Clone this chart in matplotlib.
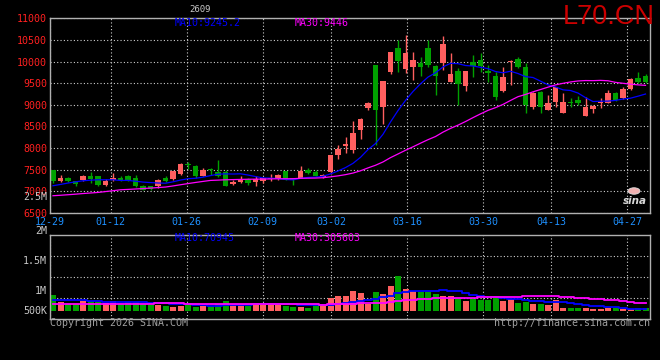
import numpy as np
import pandas as pd
import matplotlib
matplotlib.use('Agg')
import matplotlib.pyplot as plt

# L70 2609 daily bars, 2025-12-29 .. 2026-04-30
opens = [7499, 7230, 7310, 7245, 7252, 7360, 7345, 7153, 7252, 7320,
         7345, 7320, 7130, 7113, 7130, 7320, 7292, 7407, 7630, 7575,
         7360, 7515, 7437, 7437, 7169, 7206, 7284, 7206, 7230, 7284,
         7292, 7460, 7307, 7307, 7483, 7437, 7330, 7437, 7845, 8037,
         7960, 8422, 8923, 9922, 8960, 9768, 10308, 9823, 9883, 9961,
         10308, 9899, 9961, 9537, 9784, 9438, 9999, 10038, 9790, 9668,
         9329, 10000, 10054, 9883, 8946, 9306, 8884, 9076, 8807, 9076,
         9114, 8745, 8900, 9052, 9052, 9268, 9154, 9361, 9630, 9676]
highs = [7499, 7384, 7340, 7250, 7384, 7437, 7360, 7284, 7423, 7345,
         7384, 7384, 7145, 7130, 7284, 7360, 7480, 7653, 7676, 7614,
         7538, 7538, 7730, 7483, 7268, 7360, 7307, 7360, 7320, 7407,
         7407, 7470, 7320, 7575, 7538, 7483, 7400, 7850, 8076, 8253,
         8637, 8706, 9060, 9930, 9560, 10220, 10499, 10615, 10229, 10114,
         10488, 9922, 10598, 10192, 9846, 9790, 10153, 10206, 9922, 9768,
         9883, 10038, 10114, 9961, 9306, 9310, 9230, 9410, 9268, 9154,
         9206, 9177, 9000, 9154, 9345, 9306, 9422, 9615, 9768, 9714]
lows = [7199, 7215, 7210, 7113, 7230, 7192, 7130, 7113, 7230, 7230,
        7230, 7100, 7030, 7040, 7076, 7206, 7253, 7384, 7515, 7307,
        7345, 7384, 7330, 7113, 7153, 7192, 7153, 7130, 7200, 7230,
        7268, 7270, 7153, 7300, 7407, 7345, 7320, 7407, 7753, 7884,
        7898, 8207, 8884, 8076, 8560, 9714, 9768, 9745, 9576, 9668,
        9876, 9230, 9800, 9530, 8999, 9329, 9652, 9768, 9537, 9114,
        9306, 9461, 9846, 8807, 8900, 8822, 8880, 8960, 8800, 8960,
        8999, 8740, 8807, 8923, 9040, 9091, 9130, 9345, 9500, 9514]
closes = [7230, 7307, 7240, 7170, 7345, 7284, 7153, 7230, 7307, 7252,
          7252, 7113, 7040, 7053, 7252, 7230, 7476, 7637, 7615, 7360,
          7499, 7483, 7360, 7130, 7215, 7284, 7192, 7284, 7307, 7307,
          7384, 7284, 7268, 7476, 7423, 7360, 7384, 7845, 7977, 8099,
          8360, 8676, 9052, 8884, 9553, 10215, 10014, 10192, 10038, 9869,
          9922, 9668, 10407, 9714, 9477, 9784, 9899, 9888, 9745, 9191,
          9638, 10021, 9883, 8999, 9268, 8946, 9038, 9406, 9076, 9038,
          9052, 8960, 8983, 9076, 9283, 9114, 9361, 9592, 9538, 9538]
volumes = [460000, 264000, 214000, 214000, 284000, 284000, 264000, 234000, 284000, 214000,
           264000, 264000, 214000, 167000, 185000, 138000, 117000, 147000, 214000, 117000,
           147000, 147000, 214000, 284000, 214000, 214000, 147000, 234000, 214000, 234000,
           196000, 147000, 117000, 117000, 97000, 196000, 196000, 381000, 431000, 431000,
           577000, 527000, 214000, 557000, 489000, 724000, 1017000, 653000, 577000, 557000,
           557000, 489000, 431000, 431000, 390000, 293000, 360000, 331000, 314000, 390000,
           293000, 360000, 234000, 264000, 196000, 196000, 167000, 314000, 97000, 79000,
           79000, 79000, 59000, 59000, 79000, 79000, 59000, 59000, 79000, 79000]

# moving averages before a full window exists (history is off the chart)
ma10_head = [7130, 7160, 7192, 7220, 7245, 7258, 7268, 7268, 7268]
ma30_head = [6899, 6910, 6922, 6935, 6950, 6962, 6975, 6995, 7015, 7037,
             7045, 7055, 7065, 7076, 7088, 7100, 7125, 7153, 7180, 7206,
             7230, 7253, 7260, 7268, 7272, 7276, 7280, 7282, 7284]
vma10_head = [314000, 314000, 314000, 314000, 308000, 293000, 284000, 278000, 272000]
vma30_head = [214000, 214000, 214000, 214000, 214000, 214000, 214000, 214000, 214000, 214000,
              214000, 214000, 214000, 214000, 223000, 223000, 223000, 223000, 205000, 205000,
              205000, 205000, 205000, 205000, 205000, 205000, 205000, 205000, 205000]

# legend texts as printed on the chart
price_ma_labels = ['MA10:9245.2', 'MA30:9446']
vol_ma_labels = ['MA10:70945', 'MA30:305603']
vol_axis_labels = ['2M', '1.5M', '1M', '500K']

holidays = ['2026-01-01', '2026-01-02', '2026-02-16', '2026-02-17', '2026-02-18',
            '2026-02-19', '2026-02-20', '2026-02-23', '2026-04-06']
tick_dates = ['2025-12-29', '2026-01-12', '2026-01-26', '2026-02-09', '2026-03-02',
              '2026-03-16', '2026-03-30', '2026-04-13', '2026-04-27']
price_ticks = list(range(6500, 11001, 500))

RED = '#ff5f5f'
GREEN = '#00a000'
GRID = dict(color='#d0d0d0', linestyle=(0, (1, 2)), linewidth=0.8)
MONO = 'DejaVu Sans Mono'

dates = pd.bdate_range('2025-12-29', '2026-04-30')
dates = dates[~dates.isin(pd.to_datetime(holidays))]
n = len(dates)
x = np.arange(n)

o = np.array(opens, float)
h = np.array(highs, float)
l = np.array(lows, float)
c = np.array(closes, float)
v = np.array(volumes, float)
up = c >= o
colors = np.where(up, RED, GREEN)

cs = pd.Series(c)
ma10 = cs.rolling(10).mean().to_numpy()
ma10[:9] = ma10_head
ma30 = cs.rolling(30).mean().to_numpy()
ma30[:29] = ma30_head
vs = pd.Series(v)
vma10 = vs.rolling(10).mean().to_numpy()
vma10[:9] = vma10_head
vma30 = vs.rolling(30).mean().to_numpy()
vma30[:29] = vma30_head

# sina spaces its date grid over n-1 slots while bars use n
tick_idx = dates.get_indexer(pd.to_datetime(tick_dates))
grid_x = tick_idx * n / (n - 1) - 0.4
tick_labels = [d[5:] for d in tick_dates]

fig = plt.figure(figsize=(6.6, 3.6), dpi=100, facecolor='black')
W, H = 660.0, 360.0


def axes_px(left, top, right, bottom):
    return fig.add_axes([left / W, 1 - bottom / H, (right - left) / W, (bottom - top) / H])


ax = axes_px(50, 18.3, 650, 213)
axv = axes_px(50, 235, 650, 319)

for a in (ax, axv):
    a.set_facecolor('black')
    a.set_xlim(-0.4, n - 0.4)
    a.set_xticks(grid_x)
    a.grid(True, **GRID)
    a.set_axisbelow(True)
    for s in a.spines.values():
        s.set_color('#b0b0b0')
        s.set_linewidth(1)
    a.tick_params(length=0)

# candles
ax.vlines(x, l, h, colors=colors, linewidth=1)
ax.bar(x, np.maximum(np.abs(c - o), 12), bottom=np.minimum(o, c), width=0.7,
       color=colors, linewidth=0)
ax.plot(x, ma10, color='#0000ff', linewidth=0.9)
ax.plot(x, ma30, color='#ff00ff', linewidth=0.9)
ax.set_ylim(price_ticks[0], price_ticks[-1])
ax.set_yticks(price_ticks)
ax.set_yticklabels([str(p) for p in price_ticks], color='#ff2020', family=MONO, fontsize=7.2)
ax.set_xticklabels(tick_labels, color='#1e90ff', family=MONO, fontsize=7.2)
ax.tick_params(axis='x', pad=3)
ax.tick_params(axis='y', pad=2)

# volume
k = 29300.0  # volume per pixel
lo, hi = -8 * k, 76 * k
axv.bar(x, v, width=0.8, color=colors, linewidth=0)
axv.plot(x, vma10, color='#0000ff', linewidth=1.3, drawstyle='steps-mid')
axv.plot(x, vma30, color='#ff00ff', linewidth=1.3, drawstyle='steps-mid')
axv.set_ylim(lo, hi)
axv.set_yticks(np.linspace(lo, hi, 5)[1:-1])
axv.set_yticklabels([])
axv.set_xticklabels([])


def ptext(px, py, s, **kw):
    kw.setdefault('family', MONO)
    kw.setdefault('fontsize', 7.2)
    kw.setdefault('va', 'center')
    fig.text(px / W, 1 - py / H, s, **kw)


ptext(200, 10, '2609', color='#c8c8c8', fontsize=6.5, ha='center')
ptext(175, 23.5, price_ma_labels[0], color='#0000ff')
ptext(295, 23.5, price_ma_labels[1], color='#ff00ff')
ptext(655, 17, 'L70.CN', color='#cc0000', family='Liberation Sans', fontsize=19.5, ha='right')
ptext(47, 197.3, '2.5M', color='#c8c8c8', ha='right')

ptext(175, 238, vol_ma_labels[0], color='#0000ff')
ptext(295, 238, vol_ma_labels[1], color='#ff00ff')
for lab, py in zip(vol_axis_labels, [230.7, 260.7, 290.7, 310.7]):
    ptext(47, py, lab, color='#c8c8c8', ha='right')

ptext(50, 323.5, 'Copyright 2026 SINA.COM', color='#a0a0a0')
ptext(650, 323.5, 'http://finance.sina.com.cn', color='#a0a0a0', ha='right')

# sina logo
fig.patches.append(plt.Circle((634 / W, 1 - 191 / H), 0.009, transform=fig.transFigure,
                              facecolor='#f0b0b0', edgecolor='#e0e0e0', linewidth=0.6))
ptext(635, 201, 'sina', color='#d8d8d8', family='DejaVu Sans', fontsize=7.5,
      fontweight='bold', style='italic', ha='center')

fig.savefig('out.png', dpi=100, facecolor='black')
